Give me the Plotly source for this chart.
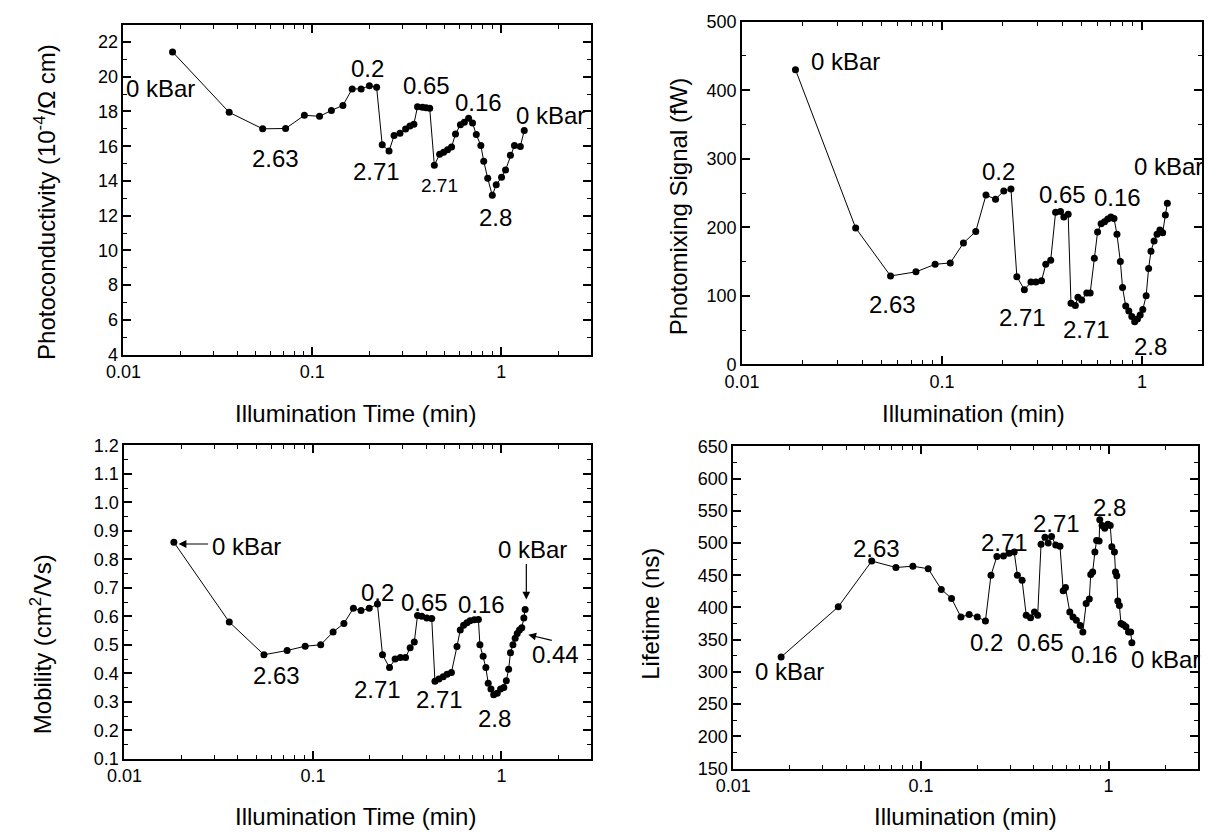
import plotly.graph_objects as go

W, H = 1209, 840
FONT = "Liberation Sans, Arial, sans-serif"

# ---------------- data ----------------
# Panel 1: photoconductivity (10^-4 / Ohm cm) vs illumination time (min)
t1 = [0.0182, 0.0363, 0.0546, 0.0722, 0.0908, 0.1092, 0.1262, 0.1452, 0.1626, 0.1813,
      0.2005, 0.219, 0.2344, 0.2548, 0.2709, 0.2911, 0.3117, 0.3287, 0.3449, 0.3604,
      0.3828, 0.4, 0.4182, 0.4425, 0.472, 0.4955, 0.52, 0.5458, 0.5728, 0.608,
      0.638, 0.672, 0.705, 0.738, 0.780, 0.808, 0.848, 0.897, 0.941, 1.004,
      1.054, 1.119, 1.175, 1.262, 1.324]
pc = [21.43, 17.95, 17.0, 17.02, 17.78, 17.72, 18.06, 18.35, 19.3, 19.3,
      19.48, 19.39, 16.08, 15.72, 16.61, 16.74, 16.99, 17.16, 17.27, 18.27,
      18.25, 18.22, 18.18, 14.91, 15.53, 15.65, 15.80, 15.95, 16.70, 17.24,
      17.38, 17.61, 17.33, 16.67, 16.04, 15.14, 14.15, 13.17, 13.78, 14.21,
      14.63, 15.48, 16.04, 15.99, 16.90]

# Panel 2: photomixing signal (fW)
t2 = [0.0185, 0.037, 0.0553, 0.0741, 0.0924, 0.110, 0.128, 0.1475, 0.166, 0.1853,
      0.2037, 0.2213, 0.2368, 0.2582, 0.2786, 0.2949, 0.3147, 0.3304, 0.3498, 0.370,
      0.3917, 0.407, 0.4276, 0.4418, 0.4645, 0.4786, 0.50, 0.53, 0.551, 0.578,
      0.600, 0.625, 0.65, 0.675, 0.70, 0.725, 0.75, 0.78, 0.80, 0.83,
      0.86, 0.89, 0.92, 0.95, 0.98, 1.01, 1.05, 1.08, 1.11, 1.15,
      1.19, 1.23, 1.27, 1.31, 1.34]
pm = [430, 199, 129, 135, 146, 148, 177, 194, 247, 241,
      253, 256, 128, 109, 120, 120, 122, 146, 152, 222,
      223, 215, 219, 89, 86, 98, 94, 104, 104, 155,
      193, 205, 208, 212, 215, 213, 190, 150, 112, 85,
      78, 70, 62, 66, 72, 80, 100, 140, 165, 180,
      190, 196, 192, 218, 235]

# Panel 3: mobility (cm^2/Vs)
t3 = [0.0183, 0.036, 0.055, 0.073, 0.091, 0.11, 0.128, 0.146, 0.164, 0.180,
      0.199, 0.220, 0.234, 0.255, 0.273, 0.291, 0.31, 0.328, 0.345, 0.359,
      0.378, 0.402, 0.427, 0.444, 0.466, 0.491, 0.515, 0.543, 0.581, 0.605,
      0.63, 0.656, 0.682, 0.719, 0.755, 0.769, 0.80, 0.827, 0.851, 0.88,
      0.91, 0.95, 0.99, 1.03, 1.062, 1.092, 1.117, 1.151, 1.183, 1.213,
      1.247, 1.283, 1.315, 1.336]
mob = [0.86, 0.58, 0.465, 0.48, 0.495, 0.50, 0.545, 0.575, 0.628, 0.62,
       0.628, 0.643, 0.465, 0.42, 0.45, 0.455, 0.455, 0.49, 0.51, 0.603,
       0.60, 0.594, 0.592, 0.372, 0.38, 0.388, 0.397, 0.403, 0.494, 0.552,
       0.569, 0.577, 0.584, 0.588, 0.589, 0.50, 0.46, 0.42, 0.365, 0.345,
       0.325, 0.33, 0.345, 0.35, 0.374, 0.414, 0.472, 0.50, 0.523, 0.54,
       0.552, 0.56, 0.594, 0.624]

# Panel 4: lifetime (ns)
t4 = [0.018, 0.0363, 0.0547, 0.0736, 0.0906, 0.1094, 0.1284, 0.1456, 0.1634, 0.1807,
      0.1997, 0.2207, 0.2362, 0.254, 0.2754, 0.2946, 0.314, 0.3266, 0.346, 0.364,
      0.3837, 0.4027, 0.419, 0.4365, 0.458, 0.4766, 0.4966, 0.5227, 0.5506, 0.573,
      0.589, 0.621, 0.646, 0.673, 0.706, 0.729, 0.759, 0.789, 0.803, 0.822,
      0.845, 0.863, 0.890, 0.897, 0.923, 0.953, 0.991, 1.02, 1.04, 1.074,
      1.088, 1.105, 1.119, 1.141, 1.164, 1.197, 1.236, 1.276, 1.31, 1.33]
life = [323, 401, 472, 462, 464, 460, 428, 414, 385, 389,
        385, 379, 450, 479, 480, 484, 486, 450, 442, 388,
        384, 393, 388, 498, 509, 500, 510, 497, 495, 426,
        431, 393, 385, 380, 372, 362, 406, 413, 451, 455,
        486, 504, 503, 536, 527, 523, 529, 527, 494, 486,
        455, 449, 410, 403, 375, 373, 370, 362, 362, 345]

x_major = [0.01, 0.1, 1]
x_major_text = ["0.01", "0.1", "1"]
x_minor = [0.02, 0.03, 0.04, 0.05, 0.06, 0.07, 0.08, 0.09,
           0.2, 0.3, 0.4, 0.5, 0.6, 0.7, 0.8, 0.9, 2, 3]

# ---------------- layout helpers ----------------
def dom_x(a, b):
    return [a / W, b / W]

def dom_y(top, bottom):
    return [1 - bottom / H, 1 - top / H]

def px(x):
    return x / W

def py(y):
    return 1 - y / H

axis_common = dict(showline=True, linecolor="black", linewidth=1.8, mirror="allticks",
                   showgrid=False, zeroline=False, ticks="inside", ticklen=8, tickwidth=1.5,
                   tickcolor="black", tickfont=dict(size=18, color="black", family=FONT))

def xcfg(domain, rng, anchor):
    d = dict(axis_common)
    d.update(type="log", domain=domain, range=rng, tickmode="array", tickvals=x_major,
             ticktext=x_major_text, anchor=anchor,
             minor=dict(tickmode="array", tickvals=x_minor, ticks="inside", ticklen=4,
                        tickwidth=1.2, tickcolor="black"))
    return d

def ycfg(domain, rng, dtick, tick0, mdt, anchor, fmt=None):
    d = dict(axis_common)
    d.update(domain=domain, range=rng, dtick=dtick, tick0=tick0, anchor=anchor,
             minor=dict(dtick=mdt, tick0=tick0, ticks="inside", ticklen=4, tickwidth=1.2,
                        tickcolor="black"))
    if fmt:
        d["tickformat"] = fmt
    return d

fig = go.Figure()

line = dict(color="black", width=1)
mk = dict(size=7, color="black")
for xs, ys, xa, ya in [(t1, pc, "x", "y"), (t2, pm, "x2", "y2"),
                       (t3, mob, "x3", "y3"), (t4, life, "x4", "y4")]:
    fig.add_trace(go.Scatter(x=xs, y=ys, mode="lines+markers", line=line, marker=mk,
                             xaxis=xa, yaxis=ya, showlegend=False, hoverinfo="x+y"))

fig.update_layout(
    width=W, height=H, margin=dict(l=0, r=0, t=0, b=0),
    paper_bgcolor="white", plot_bgcolor="white",
    font=dict(family=FONT, color="black"),
    xaxis=xcfg(dom_x(107, 582), [-2, 0.477], "y"),
    yaxis=ycfg(dom_y(15, 353), [4, 23], 2, 4, 1, "x"),
    xaxis2=xcfg(dom_x(735, 1202), [-2, 0.301], "y2"),
    yaxis2=ycfg(dom_y(12, 363), [0, 500], 100, 0, 50, "x2"),
    xaxis3=xcfg(dom_x(108, 582), [-2, 0.477], "y3"),
    yaxis3=ycfg(dom_y(446, 767), [0.1, 1.2], 0.1, 0.1, 0.05, "x3", ".1f"),
    xaxis4=xcfg(dom_x(726, 1198), [-2, 0.477], "y4"),
    yaxis4=ycfg(dom_y(447, 777), [150, 650], 50, 150, 25, "x4"),
)

anns = []

def label(x, y, text, size=24, angle=0):
    anns.append(dict(x=px(x), y=py(y), xref="paper", yref="paper", text=text,
                     showarrow=False, textangle=angle, xanchor="center", yanchor="middle",
                     font=dict(size=size, color="black", family=FONT)))

def arrow(x0, y0, x1, y1):
    # arrow from tail (x0, y0) to head (x1, y1), pixel positions on the page
    anns.append(dict(x=px(x1), y=py(y1), xref="paper", yref="paper", text="",
                     showarrow=True, ax=x0 - x1, ay=y0 - y1, axref="pixel", ayref="pixel",
                     arrowhead=2, arrowsize=1.3, arrowwidth=1.2, arrowcolor="black",
                     standoff=0, startstandoff=0))

# axis titles
label(28, 197, "Photoconductivity (10<sup>-4</sup>/Ω cm)", angle=-90)
label(343, 413, "Illumination Time (min)")
label(670, 202, "Photomixing Signal (fW)", angle=-90)
label(970, 413, "Illumination (min)")
label(23, 650, "Mobility (cm<sup>2</sup>/Vs)", angle=-90)
label(343, 826, "Illumination Time (min)")
label(642, 618, "Lifetime (ns)", angle=-90)
label(962, 826, "Illumination (min)")

# panel 1 point labels
label(145, 80, "0 kBar")
label(261, 152, "2.63")
label(355, 60, "0.2")
label(364, 165, "2.71")
label(415, 77, "0.65")
label(428, 180, "2.71", size=19)
label(467, 95, "0.16")
label(485, 213, "2.8")
label(541, 108, "0 kBar")

# panel 2 point labels
label(840, 53, "0 kBar")
label(888, 302, "2.63")
label(995, 165, "0.2")
label(1020, 315, "2.71")
label(1060, 189, "0.65")
label(1116, 192, "0.16")
label(1085, 327, "2.71")
label(1150, 345, "2.8")
label(1168, 160, "0 kBar")

# panel 3 point labels
label(232, 550, "0 kBar")
arrow(194, 547, 163, 547)
label(262, 682, "2.63")
label(365, 597, "0.2")
label(365, 696, "2.71")
label(413, 607, "0.65")
label(428, 706, "2.71")
label(470, 609, "0.16")
label(484, 726, "2.8")
label(522, 553, "0 kBar")
arrow(516, 567, 516, 604)
label(546, 660, "0.44")
arrow(543, 646, 518, 640)

# panel 4 point labels
label(783, 678, "0 kBar")
label(871, 552, "2.63")
label(983, 648, "0.2")
label(1001, 545, "2.71")
label(1038, 648, "0.65")
label(1054, 526, "2.71")
label(1093, 660, "0.16")
label(1108, 510, "2.8")
label(1165, 665, "0 kBar")

fig.update_layout(annotations=anns)
fig.write_html("out.html")
